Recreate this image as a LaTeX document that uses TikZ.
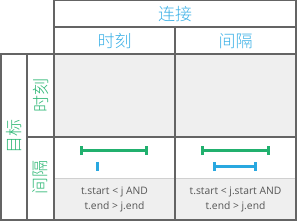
\documentclass[tikz,border=0pt]{standalone}
\usepackage{fontspec}
\setmainfont{Open Sans}
\newfontfamily\cjk{Noto Sans CJK SC Light}
\usetikzlibrary{arrows.meta}
\definecolor{gridgray}{RGB}{100,100,100}
\definecolor{cellgray}{RGB}{239,239,239}
\definecolor{sepgray}{RGB}{208,208,208}
\definecolor{headblue}{RGB}{59,176,230}
\definecolor{headgreen}{RGB}{43,182,115}
\definecolor{bargreen}{RGB}{33,176,110}
\definecolor{barblue}{RGB}{41,168,224}
\definecolor{textgray}{RGB}{85,85,85}
\begin{document}
\begin{tikzpicture}[x=1pt,y=-1pt,
    grid/.style={gridgray,line width=1.3pt},
    head/.style={inner sep=0pt,font=\cjk\fontsize{17}{17}\selectfont},
    cond/.style={inner sep=0pt,textgray,align=center,font=\fontsize{10.3}{15}\selectfont},
    span/.style={line width=3pt,{Bar[width=9pt,line width=3pt]}-{Bar[width=9pt,line width=3pt]}}]
    \useasboundingbox (0,0) rectangle (297,221);

    % cell backgrounds
    \fill[cellgray] (54,54) rectangle (296,137);
    \fill[cellgray] (54,179) rectangle (296,220);
    \draw[sepgray,line width=1pt] (54,179) -- (296,179);

    % grid
    \draw[grid] (54,0.7) -- (296,0.7) -- (296,220) -- (1,220) -- (1,54) -- (296,54);
    \draw[grid] (54,0) -- (54,220);
    \draw[grid] (54,27) -- (296,27);
    \draw[grid] (175,27) -- (175,220);
    \draw[grid] (27,54) -- (27,220);
    \draw[grid] (27,137) -- (296,137);

    % headers
    \node[head,headblue] (join) at (175,14) {连接};
    \node[head,headblue] (colmoment) at (114.5,41) {时刻};
    \node[head,headblue] (colinterval) at (235.5,41) {间隔};
    \node[head,headgreen,rotate=90] (target) at (14,137) {目标};
    \node[head,headgreen,rotate=90] (rowmoment) at (40.5,95.5) {时刻};
    \node[head,headgreen,rotate=90] (rowinterval) at (40.5,178) {间隔};

    % spans
    \coordinate (tleft) at (80,150.7);
    \coordinate (tright) at (148,150.7);
    \draw[span,bargreen] (tleft) -- (tright);
    \coordinate (jtop) at (97,162);
    \coordinate (jbot) at (97,171);
    \draw[barblue,line width=3pt] (jtop) -- (jbot);

    \coordinate (tleft2) at (201,150.7);
    \coordinate (tright2) at (269.5,150.7);
    \draw[span,bargreen] (tleft2) -- (tright2);
    \coordinate (jleft2) at (213,166.7);
    \coordinate (jright2) at (257,166.7);
    \draw[span,barblue] (jleft2) -- (jright2);

    % conditions
    \node[cond] (condmoment) at (114.5,199) {t.start < j AND\\t.end > j.end};
    \node[cond] (condinterval) at (235.5,199) {t.start < j.start AND\\t.end > j.end};
\end{tikzpicture}
\end{document}
